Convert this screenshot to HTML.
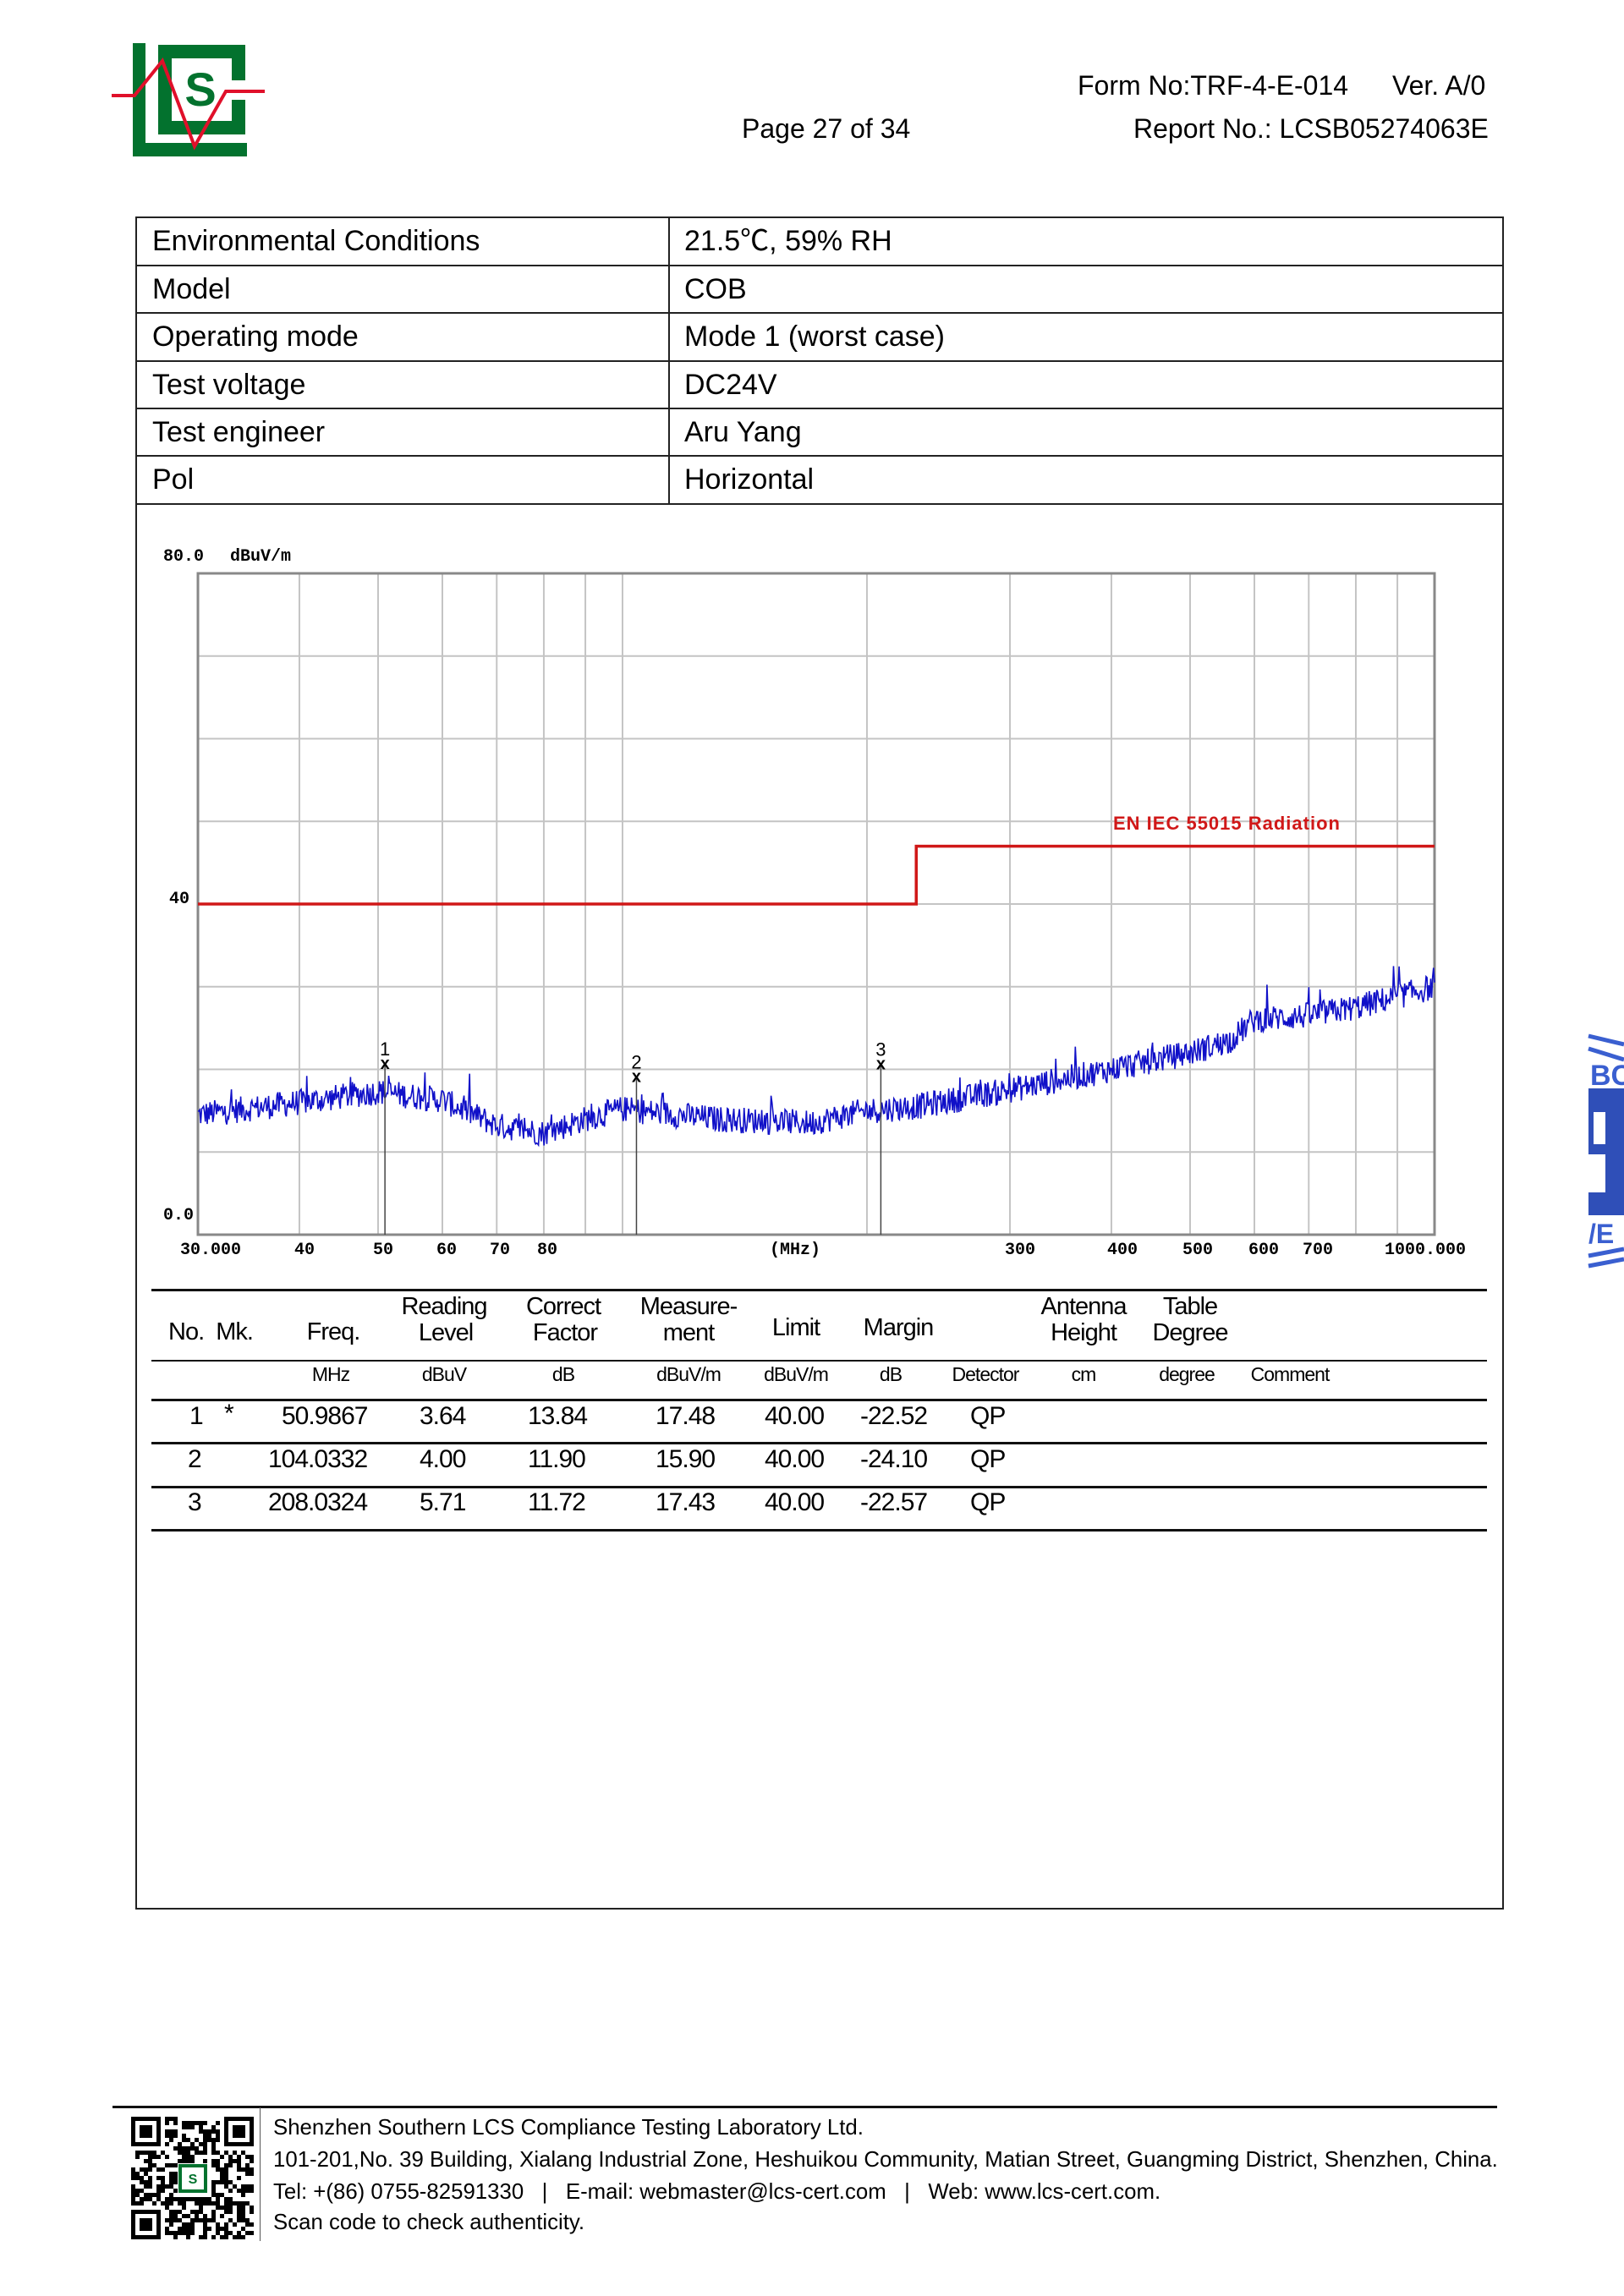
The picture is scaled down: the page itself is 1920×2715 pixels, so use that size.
<!DOCTYPE html>
<html><head><meta charset="utf-8">
<style>
html,body{margin:0;padding:0;background:#fff;}
body{width:1920px;height:2715px;position:relative;overflow:hidden;font-family:"Liberation Sans","Noto Sans CJK SC",sans-serif;color:#000;}
.a{position:absolute;white-space:nowrap;}
.hdr{font-size:32px;line-height:38px;}
.tb{font-size:34px;line-height:40px;}
.th{font-size:29px;letter-spacing:-1px;}
.tu{font-size:23px;letter-spacing:-1px;}
.td{font-size:30px;letter-spacing:-1px;}
.ft{font-size:25.8px;}
.ct{position:absolute;transform:translateX(-50%);white-space:nowrap;}
</style></head><body>

<svg class="a" style="left:0;top:0" width="330" height="200">
  <rect x="157" y="51" width="15" height="134" fill="#03722e"/>
  <rect x="157" y="169" width="135" height="16" fill="#03722e"/>
  <path d="M187 53 H290 V95 H274 V69 H203 V143 H274 V118 H290 V159 H187 Z" fill="#03722e"/>
  <text x="237" y="125" font-family="Liberation Sans" font-weight="bold" font-size="56" fill="#03722e" text-anchor="middle">S</text>
  <polyline points="132,113 159,113 192,72 230,173 267,108 313,108" fill="none" stroke="#e0102a" stroke-width="4"/>
</svg>

<div class="a hdr" style="left:1274px;top:82px">Form No:TRF-4-E-014</div>
<div class="a hdr" style="left:1646px;top:82px">Ver. A/0</div>
<div class="a hdr" style="left:877px;top:133px">Page 27 of 34</div>
<div class="a hdr" style="left:1340px;top:133px">Report No.: LCSB05274063E</div>

<div class="a" style="left:160px;top:256px;width:1614px;height:1998px;border:2px solid #222;"></div>
<div class="a" style="left:160px;top:313px;width:1616px;height:2px;background:#222"></div>
<div class="a" style="left:160px;top:369px;width:1616px;height:2px;background:#222"></div>
<div class="a" style="left:160px;top:426px;width:1616px;height:2px;background:#222"></div>
<div class="a" style="left:160px;top:482px;width:1616px;height:2px;background:#222"></div>
<div class="a" style="left:160px;top:538px;width:1616px;height:2px;background:#222"></div>
<div class="a" style="left:160px;top:595px;width:1616px;height:2px;background:#222"></div>
<div class="a" style="left:790px;top:256px;width:2px;height:340px;background:#222"></div>

<div class="a tb" style="left:180px;top:265px">Environmental Conditions</div>
<div class="a tb" style="left:180px;top:322px">Model</div>
<div class="a tb" style="left:180px;top:378px">Operating mode</div>
<div class="a tb" style="left:180px;top:435px">Test voltage</div>
<div class="a tb" style="left:180px;top:491px">Test engineer</div>
<div class="a tb" style="left:180px;top:547px">Pol</div>
<div class="a tb" style="left:809px;top:265px">21.5℃, 59% RH</div>
<div class="a tb" style="left:809px;top:322px">COB</div>
<div class="a tb" style="left:809px;top:378px">Mode 1 (worst case)</div>
<div class="a tb" style="left:809px;top:435px">DC24V</div>
<div class="a tb" style="left:809px;top:491px">Aru Yang</div>
<div class="a tb" style="left:809px;top:547px">Horizontal</div>

<svg id="ch" class="a" style="left:0;top:0" width="1920" height="1520"></svg>

<div class="a" style="left:179px;top:1524px;width:1579px;height:3px;background:#111"></div>
<div class="a" style="left:179px;top:1608px;width:1579px;height:2px;background:#111"></div>
<div class="a" style="left:179px;top:1654px;width:1579px;height:3px;background:#111"></div>
<div class="a" style="left:179px;top:1705px;width:1579px;height:3px;background:#111"></div>
<div class="a" style="left:179px;top:1757px;width:1579px;height:3px;background:#111"></div>
<div class="a" style="left:179px;top:1808px;width:1579px;height:3px;background:#111"></div>

<div class="a th" style="left:199px;top:1559px">No.&nbsp; Mk.</div>
<div class="ct th" style="left:394px;top:1559px">Freq.</div>
<div class="ct th" style="left:525px;top:1529px">Reading</div>
<div class="ct th" style="left:527px;top:1560px">Level</div>
<div class="ct th" style="left:666px;top:1529px">Correct</div>
<div class="ct th" style="left:668px;top:1560px">Factor</div>
<div class="ct th" style="left:814px;top:1529px">Measure-</div>
<div class="ct th" style="left:814px;top:1560px">ment</div>
<div class="ct th" style="left:941px;top:1554px">Limit</div>
<div class="ct th" style="left:1062px;top:1554px">Margin</div>
<div class="ct th" style="left:1281px;top:1529px">Antenna</div>
<div class="ct th" style="left:1281px;top:1560px">Height</div>
<div class="ct th" style="left:1407px;top:1529px">Table</div>
<div class="ct th" style="left:1407px;top:1560px">Degree</div>

<div class="ct tu" style="left:391px;top:1612px">MHz</div>
<div class="ct tu" style="left:525px;top:1612px">dBuV</div>
<div class="ct tu" style="left:666px;top:1612px">dB</div>
<div class="ct tu" style="left:814px;top:1612px">dBuV/m</div>
<div class="ct tu" style="left:941px;top:1612px">dBuV/m</div>
<div class="ct tu" style="left:1053px;top:1612px">dB</div>
<div class="ct tu" style="left:1165px;top:1612px">Detector</div>
<div class="ct tu" style="left:1281px;top:1612px">cm</div>
<div class="ct tu" style="left:1403px;top:1612px">degree</div>
<div class="ct tu" style="left:1525px;top:1612px">Comment</div>

<div class="a td" style="left:224px;top:1658px">1</div>
<div class="a td" style="left:265px;top:1655px">*</div>
<div class="a td" style="left:333px;top:1658px">50.9867</div>
<div class="a td" style="left:496px;top:1658px">3.64</div>
<div class="a td" style="left:624px;top:1658px">13.84</div>
<div class="a td" style="left:775px;top:1658px">17.48</div>
<div class="a td" style="left:904px;top:1658px">40.00</div>
<div class="a td" style="left:1017px;top:1658px">-22.52</div>
<div class="a td" style="left:1147px;top:1658px">QP</div>

<div class="a td" style="left:222px;top:1709px">2</div>
<div class="a td" style="left:317px;top:1709px">104.0332</div>
<div class="a td" style="left:496px;top:1709px">4.00</div>
<div class="a td" style="left:624px;top:1709px">11.90</div>
<div class="a td" style="left:775px;top:1709px">15.90</div>
<div class="a td" style="left:904px;top:1709px">40.00</div>
<div class="a td" style="left:1017px;top:1709px">-24.10</div>
<div class="a td" style="left:1147px;top:1709px">QP</div>

<div class="a td" style="left:222px;top:1760px">3</div>
<div class="a td" style="left:317px;top:1760px">208.0324</div>
<div class="a td" style="left:496px;top:1760px">5.71</div>
<div class="a td" style="left:624px;top:1760px">11.72</div>
<div class="a td" style="left:775px;top:1760px">17.43</div>
<div class="a td" style="left:904px;top:1760px">40.00</div>
<div class="a td" style="left:1017px;top:1760px">-22.57</div>
<div class="a td" style="left:1147px;top:1760px">QP</div>

<svg class="a" style="left:1870px;top:1215px" width="50" height="290">
  <path d="M8 10 L50 20 M8 25 L50 38" stroke="#3a5fd0" stroke-width="5"/>
  <text x="10" y="68" font-family="Liberation Sans" font-size="34" font-weight="bold" fill="#3a5fd0">BC</text>
  <rect x="8" y="72" width="42" height="150" fill="#2f4fb8"/>
  <rect x="14" y="100" width="14" height="38" fill="#fff"/>
  <rect x="8" y="150" width="20" height="45" fill="#fff"/>
  <text x="8" y="255" font-family="Liberation Sans" font-size="32" font-weight="bold" fill="#3a5fd0">/E</text>
  <path d="M8 270 L50 262 M8 282 L50 274" stroke="#3a5fd0" stroke-width="5"/>
</svg>

<div class="a" style="left:133px;top:2490px;width:1637px;height:3px;background:#111"></div>
<div class="a" style="left:307px;top:2492px;width:1px;height:158px;background:#555"></div>
<svg id="qr" class="a" style="left:155px;top:2503px" width="145" height="145"></svg>
<div class="a ft" style="left:323px;top:2502px">Shenzhen Southern LCS Compliance Testing Laboratory Ltd.</div>
<div class="a ft" style="left:323px;top:2540px">101-201,No. 39 Building, Xialang Industrial Zone, Heshuikou Community, Matian Street, Guangming District, Shenzhen, China.</div>
<div class="a ft" style="left:323px;top:2578px">Tel: +(86) 0755-82591330&nbsp;&nbsp;&nbsp;|&nbsp;&nbsp;&nbsp;E-mail: webmaster@lcs-cert.com&nbsp;&nbsp;&nbsp;|&nbsp;&nbsp;&nbsp;Web: www.lcs-cert.com.</div>
<div class="a ft" style="left:323px;top:2614px">Scan code to check authenticity.</div>

<script>
(function(){
var s=document.getElementById('ch'),h='';
var L=234,R=1696,T=678,B=1460;
function X(f){return L+(R-L)*Math.log10(f/30)/Math.log10(1000/30);}
function Y(d){return B-d*(B-T)/80;}
var fs=[40,50,60,70,80,90,100,200,300,400,500,600,700,800,900];
fs.forEach(function(f){h+='<line x1="'+X(f)+'" y1="'+T+'" x2="'+X(f)+'" y2="'+B+'" stroke="#c4c4c4" stroke-width="2"/>';});
for(var i=1;i<8;i++){var y=T+i*(B-T)/8;h+='<line x1="'+L+'" y1="'+y+'" x2="'+R+'" y2="'+y+'" stroke="#c4c4c4" stroke-width="2"/>';}
h+='<rect x="'+L+'" y="'+T+'" width="'+(R-L)+'" height="'+(B-T)+'" fill="none" stroke="#888" stroke-width="3"/>';
var cp=[[30,14.5],[40,16],[50,17.3],[60,16.3],[70,13.2],[80,12.3],[90,14],[100,15.2],[130,14],[170,13.5],[200,15],[230,15.5],[300,17.5],[400,20],[500,22],[560,23.5],[600,26],[700,26.5],[800,27.5],[1000,30]];
function base(f){var lf=Math.log(f);for(var i=0;i<cp.length-1;i++){var a=Math.log(cp[i][0]),b=Math.log(cp[i+1][0]);if(lf<=b){var t=(lf-a)/(b-a);return cp[i][1]+t*(cp[i+1][1]-cp[i][1]);}}return 30;}
var seed=12345;function rnd(){seed=(seed*1103515245+12345)%2147483648;return seed/2147483648;}
var pts=[];
for(var x=L;x<=R;x+=1.1){var f=30*Math.pow(1000/30,(x-L)/(R-L));var d=base(f)+(rnd()-0.5)*3.2;if(rnd()<0.04)d+=rnd()*3.5;pts.push(x.toFixed(1)+','+Y(d).toFixed(1));}
h+='<polyline points="'+pts.join(' ')+'" fill="none" stroke="#1010c8" stroke-width="1.6"/>';
h+='<polyline points="'+L+','+Y(40)+' '+X(230)+','+Y(40)+' '+X(230)+','+Y(47)+' '+R+','+Y(47)+'" fill="none" stroke="#d01818" stroke-width="3.5"/>';
h+='<text x="1316" y="981" font-family="Liberation Sans" font-weight="bold" font-size="22" letter-spacing="1" fill="#d01818">EN IEC 55015  Radiation</text>';
[[50.9867,17.48,'1'],[104.0332,15.9,'2'],[208.0324,17.43,'3']].forEach(function(m){var x=X(m[0]),y=Y(m[1]+4);
h+='<line x1="'+x+'" y1="'+(y+10)+'" x2="'+x+'" y2="'+B+'" stroke="#444" stroke-width="1.5"/>';
h+='<text x="'+x+'" y="'+(y-2)+'" font-family="Liberation Sans" font-size="22" text-anchor="middle">'+m[2]+'</text>';
h+='<text x="'+x+'" y="'+(y+14)+'" font-family="Liberation Sans" font-size="20" font-weight="bold" text-anchor="middle">x</text>';});
var tf='font-family="Liberation Mono" font-weight="bold" font-size="20"';
h+='<text x="193" y="663" '+tf+'>80.0</text><text x="272" y="663" '+tf+'>dBuV/m</text>';
h+='<text x="200" y="1068" '+tf+'>40</text><text x="193" y="1442" '+tf+'>0.0</text>';
[['30.000',249],['40',360],['50',453],['60',528],['70',591],['80',647],['(MHz)',940],['300',1206],['400',1327],['500',1416],['600',1494],['700',1558],['1000.000',1685]].forEach(function(t){h+='<text x="'+t[1]+'" y="1483" text-anchor="middle" '+tf+'>'+t[0]+'</text>';});
s.innerHTML=h;
var q=document.getElementById('qr'),g='',n=29,m=5;seed=777;
function fd(x,y){g+='<rect x="'+x*m+'" y="'+y*m+'" width="'+7*m+'" height="'+7*m+'" fill="#000"/><rect x="'+(x+1)*m+'" y="'+(y+1)*m+'" width="'+5*m+'" height="'+5*m+'" fill="#fff"/><rect x="'+(x+2)*m+'" y="'+(y+2)*m+'" width="'+3*m+'" height="'+3*m+'" fill="#000"/>';}
for(var yy=0;yy<n;yy++)for(var xx=0;xx<n;xx++){if((xx<8&&yy<8)||(xx>20&&yy<8)||(xx<8&&yy>20))continue;if(xx>10&&xx<19&&yy>10&&yy<19)continue;if(rnd()<0.5)g+='<rect x="'+xx*m+'" y="'+yy*m+'" width="'+m+'" height="'+m+'" fill="#000"/>';}
fd(0,0);fd(22,0);fd(0,22);
g+='<rect x="58" y="58" width="30" height="30" fill="#fff" stroke="#03722e" stroke-width="4"/><text x="73" y="79" text-anchor="middle" font-family="Liberation Sans" font-weight="bold" font-size="16" fill="#03722e">S</text>';
q.innerHTML=g;
})();
</script>
</body></html>
